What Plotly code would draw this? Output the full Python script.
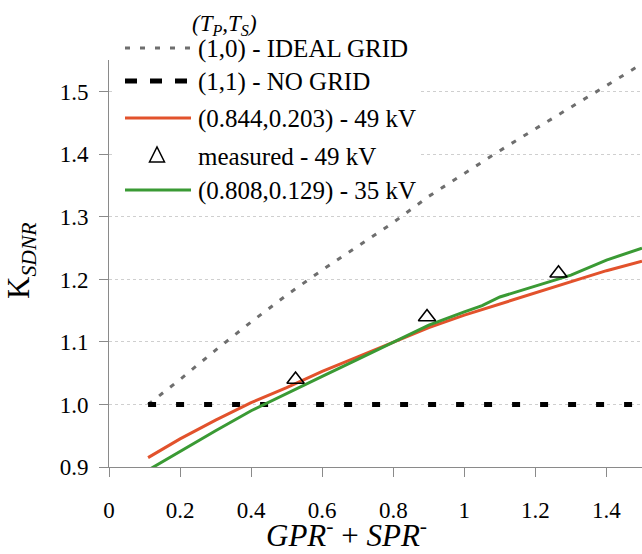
import plotly.graph_objects as go

# ---- data ----
ideal_x = [0.11, 0.2, 0.3, 0.4, 0.5, 0.6, 0.7, 0.8, 0.9, 1.0, 1.1, 1.2, 1.3, 1.4, 1.5]
ideal_y = [1.0, 1.04, 1.087, 1.132, 1.175, 1.215, 1.253, 1.291, 1.333, 1.37, 1.406, 1.441, 1.475, 1.51, 1.545]

nogrid_x = [0.11, 1.5]
nogrid_y = [1.0, 1.0]

red_x = [0.11, 0.2, 0.3, 0.4, 0.5, 0.6, 0.7, 0.8, 0.9, 1.0, 1.1, 1.2, 1.3, 1.4, 1.5]
red_y = [0.915, 0.945, 0.975, 1.003, 1.027, 1.053, 1.076, 1.10, 1.123, 1.143, 1.161, 1.178, 1.196, 1.214, 1.229]

meas_x = [0.525, 0.895, 1.265]
meas_y = [1.04, 1.14, 1.21]

green_x = [0.11, 0.2, 0.3, 0.4, 0.5, 0.6, 0.7, 0.8, 0.9, 1.0, 1.05, 1.1, 1.2, 1.3, 1.4, 1.5]
green_y = [0.895, 0.925, 0.958, 0.99, 1.018, 1.045, 1.072, 1.10, 1.127, 1.148, 1.158, 1.172, 1.189, 1.207, 1.231, 1.25]

x_ticks = [0, 0.2, 0.4, 0.6, 0.8, 1.0, 1.2, 1.4]
x_ticktext = ["0", "0.2", "0.4", "0.6", "0.8", "1", "1.2", "1.4"]
y_ticks = [0.9, 1.0, 1.1, 1.2, 1.3, 1.4, 1.5]
y_ticktext = ["0.9", "1.0", "1.1", "1.2", "1.3", "1.4", "1.5"]

legend_labels = ["(1,0) - IDEAL GRID", "(1,1) - NO GRID", "(0.844,0.203) - 49 kV",
                 "measured - 49 kV", "(0.808,0.129) - 35 kV"]

RED = "#E2522C"
GREEN = "#3A9A34"
GRAY = "#6E6E6E"
FONT = "Liberation Serif"

W, H = 642, 554
ML, MR, MT, MB = 109, 0, 60, 87
PW, PH = W - ML - MR, H - MT - MB


def px(xp):
    return (xp - ML) / PW


def py(yp):
    return (H - MB - yp) / PH


fig = go.Figure()
fig.add_trace(go.Scatter(x=ideal_x, y=ideal_y, mode="lines", name=legend_labels[0],
                         line=dict(color=GRAY, width=3, dash="5px,9px"), showlegend=False))
fig.add_trace(go.Scatter(x=nogrid_x, y=nogrid_y, mode="lines", name=legend_labels[1],
                         line=dict(color="black", width=5, dash="8px,20px"), showlegend=False))
fig.add_trace(go.Scatter(x=red_x, y=red_y, mode="lines", name=legend_labels[2],
                         line=dict(color=RED, width=3), showlegend=False))
fig.add_trace(go.Scatter(x=green_x, y=green_y, mode="lines", name=legend_labels[4],
                         line=dict(color=GREEN, width=3), showlegend=False))
fig.add_trace(go.Scatter(x=meas_x, y=meas_y, mode="markers", name=legend_labels[3],
                         marker=dict(symbol="triangle-up-open", size=15, color="black",
                                     line=dict(width=1.6, color="black")), showlegend=False))

shapes = []
# white legend background (hides gridlines behind the legend)
shapes.append(dict(type="rect", xref="paper", yref="paper", x0=px(113), x1=px(420),
                   y0=py(200), y1=py(32), fillcolor="white", line=dict(width=0), layer="above"))
ys = [48, 81, 118, 155, 190]
shapes.append(dict(type="line", xref="paper", yref="paper", x0=px(125), x1=px(191), y0=py(ys[0]), y1=py(ys[0]),
                   line=dict(color=GRAY, width=3, dash="5px,10px"), layer="above"))
shapes.append(dict(type="line", xref="paper", yref="paper", x0=px(125), x1=px(191), y0=py(ys[1]), y1=py(ys[1]),
                   line=dict(color="black", width=5, dash="12px,13px"), layer="above"))
shapes.append(dict(type="line", xref="paper", yref="paper", x0=px(125), x1=px(191), y0=py(ys[2]), y1=py(ys[2]),
                   line=dict(color=RED, width=3), layer="above"))
shapes.append(dict(type="line", xref="paper", yref="paper", x0=px(125), x1=px(191), y0=py(ys[4]), y1=py(ys[4]),
                   line=dict(color=GREEN, width=3), layer="above"))
tcx, tcy = 157, 155
tri = "M{},{} L{},{} L{},{} Z".format(px(tcx - 7.5), py(tcy + 7), px(tcx + 7.5), py(tcy + 7), px(tcx), py(tcy - 8))
shapes.append(dict(type="path", xref="paper", yref="paper", path=tri,
                   line=dict(color="black", width=1.5), layer="above"))

annotations = []
for lbl, yy in zip(legend_labels, ys):
    annotations.append(dict(text=lbl, xref="paper", yref="paper", x=px(196), y=py(yy + 1),
                            xanchor="left", yanchor="middle", showarrow=False,
                            font=dict(family=FONT, size=25, color="black")))
annotations.append(dict(text="<i>(T<sub>P</sub>,T<sub>S</sub>)</i>", xref="paper", yref="paper",
                        x=px(190), y=py(25), xanchor="left", yanchor="middle", showarrow=False,
                        font=dict(family=FONT, size=23, color="black")))
annotations.append(dict(text="<i>GPR</i><sup>-</sup>\u00a0+ <i>SPR</i><sup>-</sup>", xref="paper", yref="paper",
                        x=px(346), y=py(533), xanchor="center", yanchor="middle", showarrow=False,
                        font=dict(family=FONT, size=31, color="black")))
annotations.append(dict(text="K<sub><i>SDNR</i></sub>", xref="paper", yref="paper",
                        x=px(21), y=py(261), xanchor="center", yanchor="middle", showarrow=False,
                        textangle=-90, font=dict(family=FONT, size=31, color="black")))

fig.update_layout(
    width=W, height=H,
    margin=dict(l=ML, r=MR, t=MT, b=MB, pad=0),
    paper_bgcolor="white", plot_bgcolor="white",
    showlegend=False,
    font=dict(family=FONT),
    shapes=shapes, annotations=annotations,
    xaxis=dict(range=[0, 1.5], tickvals=x_ticks, ticktext=x_ticktext,
               showgrid=False, zeroline=False, showline=True, linecolor="#8a8a8a", linewidth=1,
               ticks="outside", ticklen=9, tickcolor="#8a8a8a", ticklabelstandoff=13,
               tickfont=dict(family=FONT, size=23, color="black")),
    yaxis=dict(range=[0.9, 1.551], tickvals=y_ticks, ticktext=y_ticktext,
               showgrid=True, gridcolor="#cfcfcf", griddash="dot", gridwidth=1,
               zeroline=False, showline=True, linecolor="#8a8a8a", linewidth=1,
               ticks="outside", ticklen=9, tickcolor="#8a8a8a", ticklabelstandoff=6,
               tickfont=dict(family=FONT, size=23, color="black")),
)

fig.write_html("out.html")
